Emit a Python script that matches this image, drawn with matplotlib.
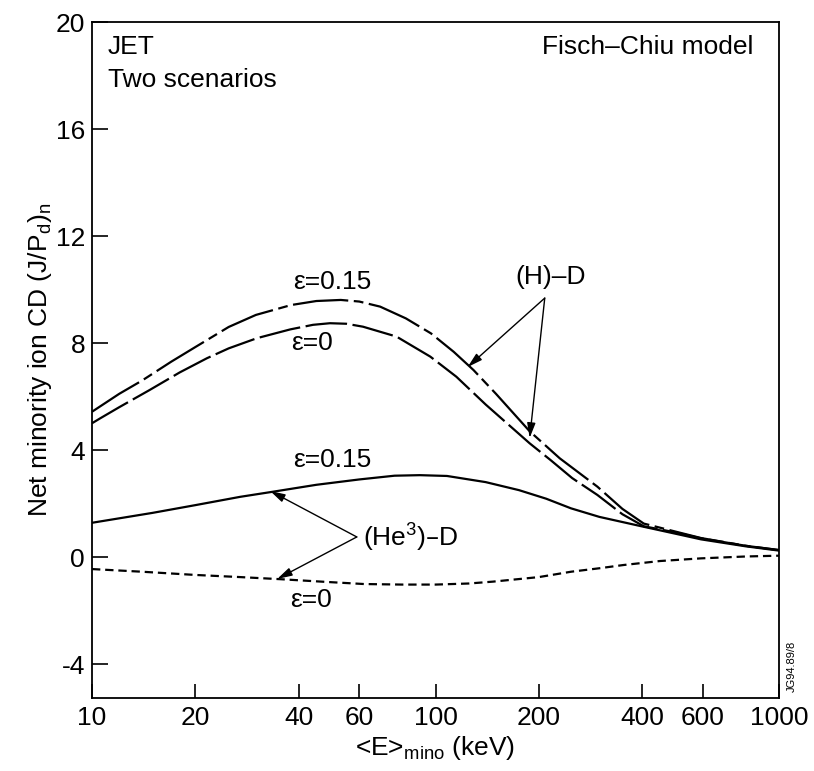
import matplotlib
matplotlib.use('agg')
import matplotlib.pyplot as plt
from matplotlib.ticker import FixedLocator, FixedFormatter, NullLocator

plt.rcParams['font.family'] = ['Liberation Sans Narrow', 'Liberation Sans', 'DejaVu Sans']
plt.rcParams['mathtext.default'] = 'regular'
plt.rcParams['lines.scale_dashes'] = False
plt.rcParams['axes.unicode_minus'] = False

# (H)-D, eps=0.15
h15_e = [10, 12, 14, 17, 20, 25, 30, 38, 45, 53, 60, 69, 82, 97, 113, 129, 150, 188, 230, 296, 350, 404, 500, 593, 800, 1000]
h15_j = [5.43, 6.1, 6.6, 7.3, 7.85, 8.6, 9.05, 9.42, 9.57, 9.61, 9.55, 9.36, 8.92, 8.36, 7.67, 6.99, 6.1, 4.7, 3.69, 2.63, 1.8, 1.25, 0.95, 0.71, 0.42, 0.26]

# (H)-D, eps=0
h0_e = [10, 10.55, 12, 14.7, 18, 21.6, 25, 30.2, 37.8, 44, 49.3, 55, 61.5, 77, 96.6, 115, 140, 188, 216, 250, 296, 350, 404, 500, 593, 800, 1000]
h0_j = [5.0, 5.18, 5.6, 6.24, 6.9, 7.43, 7.8, 8.18, 8.51, 8.68, 8.74, 8.72, 8.61, 8.24, 7.49, 6.74, 5.7, 4.25, 3.63, 2.95, 2.32, 1.6, 1.15, 0.92, 0.7, 0.42, 0.26]

# (He3)-D, eps=0.15
he15_e = [10, 15, 20, 27, 33.6, 45, 60, 76, 90, 108, 140, 175, 210, 248, 300, 404, 500, 593, 800, 1000]
he15_j = [1.28, 1.65, 1.94, 2.25, 2.44, 2.7, 2.9, 3.04, 3.06, 3.03, 2.8, 2.5, 2.18, 1.82, 1.5, 1.13, 0.87, 0.66, 0.4, 0.24]

# (He3)-D, eps=0
he0_e = [10, 14, 20, 27, 35.5, 48, 62, 80, 100, 125, 147, 200, 248, 300, 352, 450, 593, 800, 1000]
he0_j = [-0.45, -0.55, -0.67, -0.75, -0.83, -0.93, -1.01, -1.03, -1.03, -0.99, -0.92, -0.75, -0.55, -0.42, -0.30, -0.15, -0.05, 0.02, 0.05]

xticks = [10, 20, 40, 60, 100, 200, 400, 600, 1000]
yticks = [-4, 0, 4, 8, 12, 16, 20]

fig = plt.figure(figsize=(8.14, 7.71), dpi=100)
ax = fig.add_axes([92 / 814, 73 / 771, 687 / 814, 676 / 771])

lw = 1.6
ax.plot(h15_e, h15_j, color='black', lw=lw, dashes=(40, 4, 7, 4))
ax.plot(h0_e, h0_j, color='black', lw=lw, dashes=(30, 4))
ax.plot(he15_e, he15_j, color='black', lw=lw)
ax.plot(he0_e, he0_j, color='black', lw=lw, dashes=(6, 3.5))

ax.set_xscale('log')
ax.set_xlim(10, 1000)
ax.set_ylim(-5.27, 20)

ax.xaxis.set_major_locator(FixedLocator(xticks))
ax.xaxis.set_major_formatter(FixedFormatter([str(t) for t in xticks]))
ax.xaxis.set_minor_locator(NullLocator())
ax.set_yticks(yticks)
ax.tick_params(axis='x', direction='in', length=10, width=1.2, labelsize=19, pad=6)
ax.tick_params(axis='y', direction='in', length=11.5, width=1.2, labelsize=19, pad=5)
for s in ax.spines.values():
    s.set_linewidth(1.3)

ax.set_xlabel('<E>$_{mino}$ (keV)', fontsize=19, family=['Liberation Sans', 'DejaVu Sans'], labelpad=3)
ax.set_ylabel('Net minority ion CD (J/P$_d$)$_n$', fontsize=19, family=['Liberation Sans', 'DejaVu Sans'], labelpad=1)

ax.text(0.023, 0.963, 'JET', transform=ax.transAxes, fontsize=19, va='center', ha='left')
ax.text(0.023, 0.914, 'Two scenarios', transform=ax.transAxes, fontsize=19, va='center', ha='left')
ax.text(0.962, 0.963, 'Fisch\u2013Chiu model', transform=ax.transAxes, fontsize=19, va='center', ha='right')

ax.text(50, 10.28, '\u03b5=0.15', fontsize=19, ha='center', va='center')
ax.text(43.7, 8.0, '\u03b5=0', fontsize=19, ha='center', va='center')
ax.text(50, 3.63, '\u03b5=0.15', fontsize=19, ha='center', va='center')
ax.text(43.4, -1.6, '\u03b5=0', fontsize=19, ha='center', va='center')

ax.text(217, 10.47, '(H)\u2013D', fontsize=19, ha='center', va='center')
ax.text(61.6, 0.71, '(He$^3$)\u2013D', fontsize=19, ha='left', va='center')

arrow = dict(arrowstyle='-|>,head_length=0.9,head_width=0.25', color='black', lw=1.0, shrinkA=0, shrinkB=0)
ax.annotate('', xy=(124, 7.10), xytext=(208, 9.68), arrowprops=arrow)
ax.annotate('', xy=(188, 4.45), xytext=(208, 9.68), arrowprops=arrow)
ax.annotate('', xy=(33, 2.47), xytext=(59, 0.75), arrowprops=arrow)
ax.annotate('', xy=(34.6, -0.82), xytext=(59, 0.75), arrowprops=arrow)

ax.text(1.018, 0.009, 'JG94.89/8', transform=ax.transAxes, fontsize=8, rotation=90,
        ha='center', va='bottom', family=['Liberation Sans', 'DejaVu Sans'])

fig.savefig('out.png', dpi=100)
